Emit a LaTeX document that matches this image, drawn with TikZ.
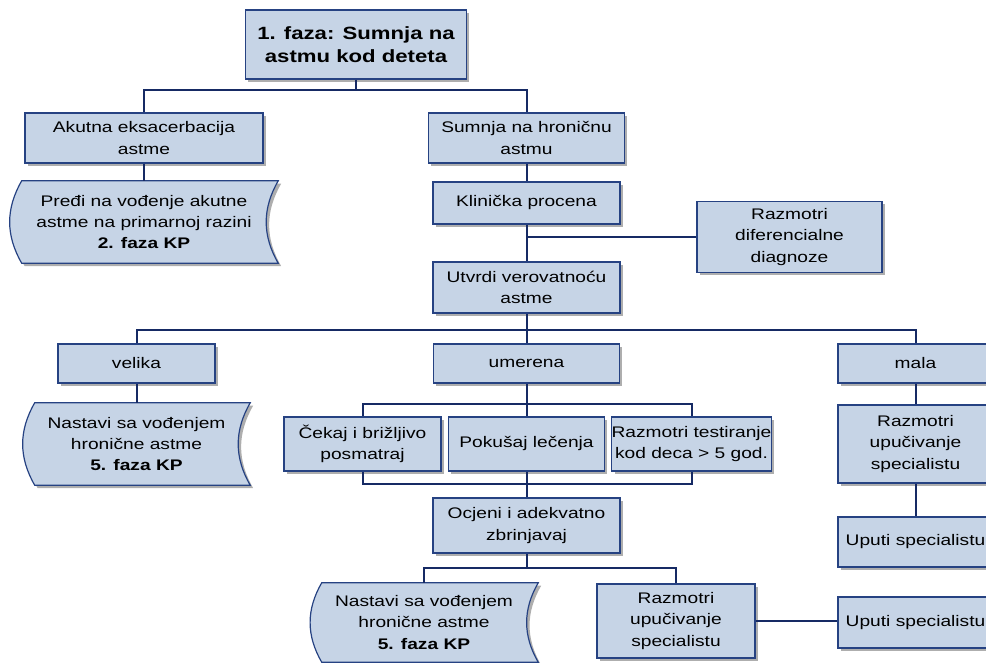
\documentclass[tikz,border=0pt]{standalone}
\usepackage{fontspec}
\setmainfont{Liberation Sans}[FakeStretch=1.25]
\usetikzlibrary{shadows,backgrounds}

\definecolor{boxfill}{RGB}{198,212,230}
\definecolor{boxline}{RGB}{38,66,130}
\definecolor{linknavy}{RGB}{22,42,100}

\tikzset{
  wh/.style 2 args={minimum width=#1*0.75pt, minimum height=#2*0.75pt},
  boxshadow/.style={drop shadow={shadow xshift=2.2pt, shadow yshift=-2.2pt, fill=black!45, opacity=0.7}},
  box/.style={draw=boxline, fill=boxfill, line width=0.9pt, align=center, inner sep=0pt, boxshadow},
  tape/.style={align=center, inner sep=0pt},
  link/.style={draw=linknavy, line width=1.5pt},
}
% stored-data outline round a tape node, frame shifted a little to the right
\newcommand\tapeshape[1]{%
  \draw[draw=boxline, fill=boxfill, line width=0.9pt, boxshadow]
    ([xshift=4.5pt]#1.north west) to[bend right=30] ([xshift=4.5pt]#1.south west)
    -- ([xshift=4.5pt]#1.south east) to[bend left=30] ([xshift=4.5pt]#1.north east) -- cycle;}

\begin{document}
\begin{tikzpicture}[x=0.75pt, y=-0.75pt, font=\fontsize{11.5}{16}\selectfont]
  \useasboundingbox (0,0) rectangle (986,663);
  \clip (0,0) rectangle (986,663);
  % top and first split
  \node[box, wh={221}{69}, font=\fontsize{13.3}{17.5}\selectfont\bfseries] (faza) at (356,44.5)
        {1. faza: Sumnja na\\astmu kod deteta};
  \node[box, wh={238}{50}] (akut) at (144,138) {Akutna eksacerbacija\\astme};
  \node[tape, wh={256}{82}] (pred) at (144,222)
        {Pređi na vođenje akutne\\astme na primarnoj razini\\\textbf{2. faza KP}};
  \node[box, wh={196}{50}] (sumn) at (526.5,138) {Sumnja na hroničnu\\astmu};
  \node[box, wh={187}{42}] (klin) at (526.5,203) {Klinička procena};
  \node[box, wh={185}{71}] (difd) at (789.5,237) {Razmotri\\diferencialne\\diagnoze};
  \node[box, wh={187}{51}] (utvr) at (526.5,287.5) {Utvrdi verovatnoću\\astme};
  % probability levels
  \node[box, wh={157}{39}] (velk) at (136.5,363.5) {velika};
  \node[box, wh={186}{39}] (umer) at (526.5,363.5) {umerena};
  \node[box, wh={155}{39}] (mala) at (915.5,363.5) {mala};
  \node[tape, wh={215}{82}] (nast1) at (136.5,444)
        {Nastavi sa vođenjem\\hronične astme\\\textbf{5. faza KP}};
  \node[box, wh={157}{54}] (ceka) at (362.5,444) {Čekaj i brižljivo\\posmatraj};
  \node[box, wh={156}{54}] (poku) at (526.5,444) {Pokušaj lečenja};
  \node[box, wh={157}{54}] (test) at (691.5,444) {Razmotri testiranje\\kod deca > 5 god.};
  \node[box, wh={155}{78}] (rupu1) at (915.5,444) {Razmotri\\upučivanje\\specialistu};
  \node[box, wh={155}{50}] (uput1) at (915.5,542) {Uputi specialistu};
  % assessment and last split
  \node[box, wh={187}{55}] (ocje) at (526.5,525.5) {Ocjeni i adekvatno\\zbrinjavaj};
  \node[tape, wh={216}{79}] (nast2) at (424,622.5)
        {Nastavi sa vođenjem\\hronične astme\\\textbf{5. faza KP}};
  \node[box, wh={158}{74}] (rupu2) at (676,621) {Razmotri\\upučivanje\\specialistu};
  \node[box, wh={155}{51}] (uput2) at (915.5,622.5) {Uputi specialistu};
  \begin{scope}[on background layer]
    \tapeshape{pred}
    \tapeshape{nast1}
    \tapeshape{nast2}
  \end{scope}
  % connectors
  \coordinate (j1) at (356,90);
  \coordinate (j2) at (526.5,330);
  \coordinate (j3) at (526.5,404);
  \coordinate (j4) at (526.5,484);
  \coordinate (j5) at (526.5,568);
  \draw[link] (faza.south) -- (j1);
  \draw[link] (akut.north) |- (j1) -| (sumn.north);
  \draw[link] (akut.south) -- (pred.north);
  \draw[link] (sumn.south) -- (klin.north);
  \draw[link] (klin.south) -- (utvr.north);
  \draw[link] (klin.south |- difd.west) -- (difd.west);
  \draw[link] (utvr.south) -- (j2) -- (umer.north);
  \draw[link] (velk.north) |- (j2) -| (mala.north);
  \draw[link] (velk.south) -- (nast1.north);
  \draw[link] (umer.south) -- (j3) -- (poku.north);
  \draw[link] (ceka.north) |- (j3) -| (test.north);
  \draw[link] (ceka.south) |- (j4) -| (test.south);
  \draw[link] (poku.south) -- (j4) -- (ocje.north);
  \draw[link] (mala.south) -- (rupu1.north);
  \draw[link] (rupu1.south) -- (uput1.north);
  \draw[link] (ocje.south) -- (j5);
  \draw[link] (nast2.north) |- (j5) -| (rupu2.north);
  \draw[link] (rupu2.east) -- (rupu2.east -| uput2.west);
\end{tikzpicture}
\end{document}
